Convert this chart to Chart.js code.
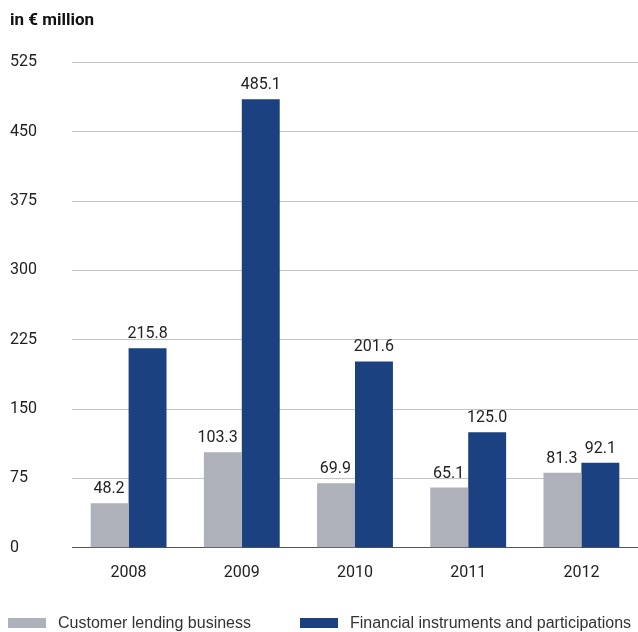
<!DOCTYPE html>
<html>
<head>
<meta charset="utf-8">
<script src="https://cdn.jsdelivr.net/npm/chart.js@4.4.1/dist/chart.umd.min.js"></script>
<style>
  html, body { margin: 0; padding: 0; background: #fff; }
  #wrap { width: 638px; height: 632px; }
</style>
</head>
<body>
<div id="wrap"><canvas id="myChart" width="638" height="632"></canvas></div>
<script>
// ....................................   DATA   ....................................
const years = ['2008', '2009', '2010', '2011', '2012'];
const lendingValues = [48.2, 103.3, 69.9, 65.1, 81.3];
const financialValues = [215.8, 485.1, 201.6, 125.0, 92.1];
const seriesNames = ['Customer lending business', 'Financial instruments and participations'];
const yTicks = [0, 75, 150, 225, 300, 375, 450, 525];

const grayColor = '#aeb1b9';
const blueColor = '#1b4180';

// value labels on top of each bar
const barLabels = {
    id: 'barLabels',
    afterDatasetsDraw(chart) {
        const ctx = chart.ctx;
        ctx.save();
        ctx.font = '16px Roboto';
        ctx.fillStyle = '#222';
        ctx.textAlign = 'center';
        ctx.textBaseline = 'alphabetic';
        chart.data.datasets.forEach((ds, i) => {
            chart.getDatasetMeta(i).data.forEach((bar, j) => {
                const txt = ds.data[j].toFixed(1);
                let x = bar.x;
                if (i == 0) {
                    // keep the gray label clear of the blue bar next to it
                    const w = ctx.measureText(txt).width;
                    const right = bar.x + bar.width / 2 - 4;
                    if (x + w / 2 > right) x = right - w / 2;
                }
                ctx.fillText(txt, x, bar.y - 10);
            });
        });
        ctx.restore();
    }
};

// legend drawn at the bottom (wide gap between items like the original)
const bottomLegend = {
    id: 'bottomLegend',
    afterDraw(chart) {
        const ctx = chart.ctx;
        ctx.save();
        ctx.font = '16px "Liberation Sans", Arial, sans-serif';
        ctx.textBaseline = 'middle';
        ctx.textAlign = 'left';
        let x = 8;
        const y = 623;
        chart.data.datasets.forEach((ds, i) => {
            ctx.fillStyle = ds.backgroundColor;
            ctx.fillRect(x, y - 5, 38, 10);
            ctx.fillStyle = '#333';
            ctx.fillText(ds.label, x + 50, y + 1);
            x = x + 50 + ctx.measureText(ds.label).width + 49;
        });
        ctx.restore();
    }
};

const data = {
    labels: years,
    datasets: [{
        label: seriesNames[0],
        data: lendingValues,
        backgroundColor: grayColor
    }, {
        label: seriesNames[1],
        data: financialValues,
        backgroundColor: blueColor
    }]
};

const config = {
    type: 'bar',
    data: data,
    options: {
        responsive: false,
        animation: false,
        layout: {
            padding: { left: 10, right: 0, top: 0, bottom: 41 }
        },
        datasets: {
            bar: {
                categoryPercentage: 0.67,
                barPercentage: 1.0
            }
        },
        plugins: {
            legend: { display: false },
            tooltip: { enabled: false },
            title: {
                display: true,
                text: 'in € million',
                align: 'start',
                color: '#111',
                font: { family: 'Roboto', size: 17, weight: 'bold' },
                padding: { top: 11, bottom: 31 }
            }
        },
        scales: {
            x: {
                grid: { display: false },
                border: { display: true, color: '#555', width: 1 },
                ticks: {
                    color: '#222',
                    font: { family: 'Roboto', size: 16 },
                    padding: 8
                }
            },
            y: {
                min: 0,
                max: 525,
                afterBuildTicks: function (axis) {
                    axis.ticks = yTicks.map(v => ({ value: v }));
                },
                afterFit: function (axis) {
                    axis.width = 62;
                },
                border: { display: false },
                grid: {
                    color: '#c4c4c4',
                    drawTicks: false
                },
                ticks: {
                    color: '#222',
                    crossAlign: 'far',
                    padding: 0,
                    font: { family: 'Roboto', size: 16 }
                }
            }
        }
    },
    plugins: [barLabels, bottomLegend]
};

const myChart = new Chart(document.getElementById('myChart'), config);
</script>
</body>
</html>
